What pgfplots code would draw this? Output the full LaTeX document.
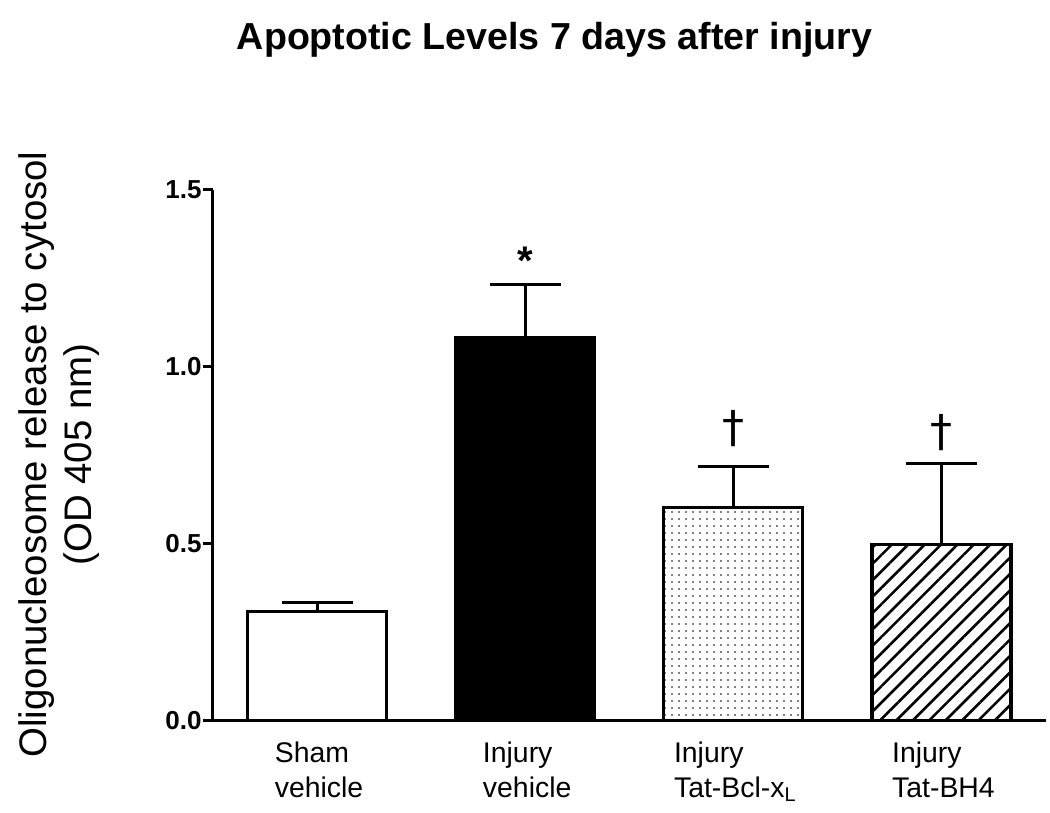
\documentclass[border=0pt]{standalone}
\usepackage{pgfplots}
\pgfplotsset{compat=1.18}
\usepackage{fontspec}
\setmainfont{Liberation Sans}
\newfontfamily\dagfont{DejaVu Sans}
\usetikzlibrary{patterns.meta}
\begin{document}
\begin{tikzpicture}
\path[use as bounding box] (-106.5pt,-46.15pt) rectangle (418.5pt,360.35pt);
\begin{axis}[
  scale only axis,
  width=416.25pt, height=265.35pt,
  xmin=-0.5, xmax=3.5, ymin=0, ymax=1.5,
  axis x line=bottom, axis y line=left,
  axis line style={-, line width=1.5pt},
  xtick={0,1,2,3},
  xticklabels={Sham\\vehicle, Injury\\vehicle, Injury\\Tat-Bcl-x\textsubscript{L}, Injury\\Tat-BH4},
  x tick style={draw=none},
  xticklabel style={align=left, font=\fontsize{14.2}{17.5}\selectfont, anchor=north, yshift=-2pt, xshift=1pt},
  ytick={0,0.5,1,1.5},
  y tick style={line width=1.5pt, black},
  tick align=outside,
  major tick length=5pt,
  yticklabel style={font=\bfseries\fontsize{13}{15}\selectfont, /pgf/number format/fixed, /pgf/number format/fixed zerofill, /pgf/number format/precision=1, inner sep=0.5pt},
  /pgf/number format/assume math mode=true,
  clip=false,
]
\addplot[ybar, bar width=0.668, bar shift=0pt, draw=black, line width=1.6pt, fill=white,
  error bars/.cd, y dir=plus, y explicit, error mark=-, error bar style={line width=1.5pt}, error mark options={rotate=90, line width=1.5pt, mark size=17.75pt}]
  coordinates {(0,0.308) +- (0,0.027)};
\addplot[ybar, bar width=0.668, bar shift=0pt, draw=black, line width=1.6pt, fill=black,
  error bars/.cd, y dir=plus, y explicit, error mark=-, error bar style={line width=1.5pt}, error mark options={rotate=90, line width=1.5pt, mark size=17.75pt}]
  coordinates {(1,1.084) +- (0,0.150)};
\addplot[ybar, bar width=0.668, bar shift=0pt, draw=black, line width=1.6pt, pattern={Dots[distance=3.5pt, radius=0.4pt]}, pattern color=black,
  error bars/.cd, y dir=plus, y explicit, error mark=-, error bar style={line width=1.5pt}, error mark options={rotate=90, line width=1.5pt, mark size=17.75pt}]
  coordinates {(2,0.603) +- (0,0.115)};
\addplot[ybar, bar width=0.668, bar shift=0pt, draw=black, line width=1.6pt, pattern={Lines[angle=45, distance=5.8pt, line width=1.3pt]}, pattern color=black,
  error bars/.cd, y dir=plus, y explicit, error mark=-, error bar style={line width=1.5pt}, error mark options={rotate=90, line width=1.5pt, mark size=17.75pt}]
  coordinates {(3,0.497) +- (0,0.230)};
\node[font=\bfseries\fontsize{20}{22}\selectfont] at (axis cs:1,1.30) {*};
\node[font=\dagfont\fontsize{22}{24}\selectfont] at (axis cs:2,0.827) {†};
\node[font=\dagfont\fontsize{22}{24}\selectfont] at (axis cs:3,0.815) {†};
\end{axis}
\node[anchor=base, font=\bfseries\fontsize{18.8}{22}\selectfont] at (170.75pt,335.4pt) {Apoptotic Levels 7 days after injury};
\node[rotate=90, align=center, font=\fontsize{19.2}{22.5}\selectfont] at (-77pt,133.1pt) {Oligonucleosome release to cytosol\\(OD 405 nm)};
\end{tikzpicture}
\end{document}
